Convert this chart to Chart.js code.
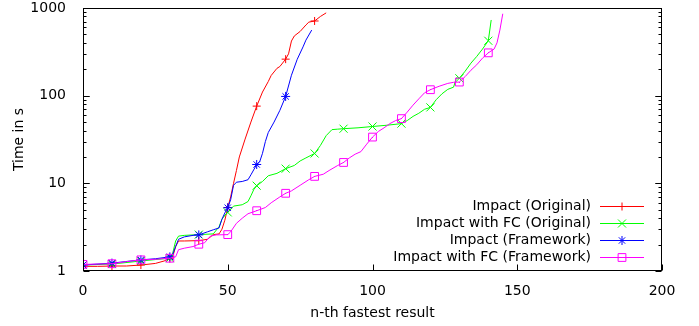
<!DOCTYPE html>
<html>
<head>
<meta charset="utf-8">
<script src="https://cdn.jsdelivr.net/npm/chart.js@4/dist/chart.umd.min.js"></script>
<style>
    html, body { margin: 0; padding: 0; background: #fff; }
    #wrap { width: 699px; height: 326px; }
</style>
</head>
<body>
<div id="wrap"><canvas id="timeChart"></canvas></div>
<script>
// n-th fastest result vs. time (s)
const seriesNames = ['Impact (Original)', 'Impact with FC (Original)', 'Impact (Framework)', 'Impact with FC (Framework)'];
const seriesColors = ['#ff0000', '#00ff00', '#0000ff', '#ff00ff'];

const impactOrigX = [0, 5, 10, 15, 20, 25, 28, 30, 31, 32, 33, 35, 40, 43, 45, 47, 48, 49, 50, 51, 52, 53, 54, 56, 58, 60, 62, 64, 65, 67, 68, 70, 71, 72, 73, 75, 77, 78, 80, 82, 84];
const impactOrigY = [1.13, 1.13, 1.14, 1.14, 1.17, 1.22, 1.3, 1.38, 1.45, 1.9, 2.2, 2.2, 2.22, 2.3, 2.6, 2.65, 3.0, 3.8, 5.3, 7, 10, 14, 20, 32, 50, 76, 110, 145, 170, 205, 215, 261, 300, 420, 480, 540, 640, 690, 711, 800, 880];

const fcOrigX = [0, 10, 20, 25, 30, 31, 32, 33, 35, 40, 45, 47, 48, 49, 50, 52, 55, 57, 58, 59, 60, 62, 64, 67, 70, 73, 75, 77, 80, 82, 84, 86, 88, 90, 95, 100, 105, 110, 112, 114, 116, 118, 120, 122, 124, 126, 128, 129, 130, 132, 134, 136, 138, 140, 141];
const fcOrigY = [1.17, 1.2, 1.3, 1.35, 1.4, 1.6, 2.2, 2.5, 2.55, 2.6, 2.65, 3.2, 3.9, 4.3, 4.66, 5.5, 5.7, 6.2, 7.2, 8.5, 9.4, 10.5, 12.2, 13, 14.7, 16, 18, 19.5, 21.9, 27, 35, 41, 41.5, 42, 43, 44.5, 46, 48, 52, 58, 63, 70, 73.5, 90, 105, 118, 125, 160, 158, 190, 235, 280, 340, 423, 730];

const impactFwX = [0, 10, 20, 25, 30, 31, 32, 33, 35, 38, 40, 43, 45, 47, 48, 49, 50, 51, 52, 53, 55, 57, 58, 60, 61, 62, 63, 64, 66, 68, 70, 72, 74, 76, 77, 79];
const impactFwY = [1.17, 1.23, 1.34, 1.38, 1.45, 1.55, 1.9, 2.3, 2.45, 2.55, 2.58, 2.8, 2.95, 3.1, 3.9, 4.6, 5.27, 6.5, 9.5, 10.3, 10.5, 11, 12.5, 16.4, 17.5, 22, 30, 38, 50, 68, 98, 171, 260, 360, 430, 560];

const fcFwX = [0, 5, 10, 15, 20, 25, 30, 32, 33, 35, 38, 40, 42, 44, 46, 50, 51, 53, 55, 57, 60, 63, 65, 68, 70, 72, 75, 78, 80, 83, 85, 88, 90, 92, 94, 96, 98, 100, 102, 104, 106, 108, 110, 112, 114, 116, 118, 120, 123, 126, 128, 130, 132, 134, 136, 138, 140, 142, 143, 144, 145];
const fcFwY = [1.19, 1.2, 1.21, 1.28, 1.34, 1.36, 1.4, 1.45, 1.75, 1.82, 1.9, 2.02, 2.1, 2.5, 2.58, 2.6, 2.8, 3.5, 4.0, 4.5, 4.87, 5.3, 6.0, 7.0, 7.7, 8.2, 9.5, 11, 12, 12.7, 14, 16, 17.3, 19.5, 21.5, 23, 28, 33.7, 39, 43, 48, 52, 54.7, 65, 78, 92, 108, 117, 128, 138, 142, 143, 165, 195, 225, 268, 308, 340, 400, 560, 860];

const xTickValues = [0, 50, 100, 150, 200];
const yTickLabels = [1, 10, 100, 1000];

const markerStyles = ['cross', 'crossRot', 'star', 'rect'];
const markerSizes = [4, 5.7, 4.5, 5.5];

function toPoints(xs, ys) {
    return xs.map((x, i) => ({x: x, y: ys[i]}));
}

const seriesPoints = [
    toPoints(impactOrigX, impactOrigY),
    toPoints(fcOrigX, fcOrigY),
    toPoints(impactFwX, impactFwY),
    toPoints(fcFwX, fcFwY),
];

const FONT = 'DejaVu Sans';
const FONT_SIZE = 14;

const datasets = seriesPoints.map((pts, i) => ({
    label: seriesNames[i],
    data: pts,
    borderColor: seriesColors[i],
    pointBorderColor: seriesColors[i],
    pointBackgroundColor: 'rgba(0,0,0,0)',
    borderWidth: 1,
    pointBorderWidth: 1,
    pointStyle: markerStyles[i],
    pointRadius: ctx => (ctx.raw && ctx.raw.x % 10 === 0 ? markerSizes[i] : 0),
    pointHoverRadius: 0,
    tension: 0,
    fill: false,
    order: 4 - i,
}));

function drawMarker(ctx, style, radius, x, y) {
    if (Chart.helpers && Chart.helpers.drawPoint) {
        Chart.helpers.drawPoint(ctx, {pointStyle: style, radius: radius, rotation: 0, borderWidth: 1}, x, y);
    }
}

const framePlugin = {
    id: 'frame',
    afterDatasetsDraw(chart) {
        // the little dot gnuplot puts inside the open squares
        const ctx = chart.ctx;
        const meta = chart.getDatasetMeta(3);
        ctx.save();
        ctx.fillStyle = seriesColors[3];
        meta.data.forEach((el, j) => {
            if (seriesPoints[3][j].x % 10 === 0) {
                ctx.fillRect(Math.round(el.x - 0.5), Math.round(el.y - 0.5), 1, 1);
            }
        });
        ctx.restore();
    },
    afterDraw(chart) {
        const {ctx, chartArea: a, scales} = chart;
        ctx.save();
        ctx.strokeStyle = '#000';
        ctx.lineWidth = 1;
        const L = Math.round(a.left) + 0.5, R = Math.round(a.right) - 0.5;
        const T = Math.round(a.top) + 0.5, B = Math.round(a.bottom) - 0.5;
        ctx.strokeRect(L, T, R - L, B - T);

        ctx.beginPath();
        xTickValues.forEach(v => {
            const px = Math.round(scales.x.getPixelForValue(v)) + 0.5;
            ctx.moveTo(px, B);
            ctx.lineTo(px, B - 6);
        });
        [1, 10, 100].forEach(d => {
            for (let k = 1; k <= 10; k++) {
                const py = Math.round(scales.y.getPixelForValue(k * d)) + 0.5;
                const len = (k === 1 || k === 10) ? 6 : 3;
                ctx.moveTo(L, py); ctx.lineTo(L + len, py);
                ctx.moveTo(R, py); ctx.lineTo(R - len, py);
            }
        });
        ctx.stroke();

        // legend: text on the left, sample line with marker on the right
        ctx.font = FONT_SIZE + 'px "' + FONT + '"';
        ctx.textAlign = 'right';
        ctx.textBaseline = 'middle';
        seriesNames.forEach((name, i) => {
            const y = 206.5 + i * 17;
            ctx.fillStyle = '#000';
            ctx.fillText(name, 591, y);
            ctx.strokeStyle = seriesColors[i];
            ctx.beginPath();
            ctx.moveTo(600, y);
            ctx.lineTo(644, y);
            ctx.stroke();
            ctx.fillStyle = 'rgba(0,0,0,0)';
            drawMarker(ctx, markerStyles[i], markerSizes[i], 622, y);
            if (i === 3) {
                ctx.fillStyle = seriesColors[i];
                ctx.fillRect(621.5, y - 0.5, 1, 1);
            }
        });
        ctx.restore();
    }
};

new Chart(document.getElementById('timeChart'), {
    type: 'line',
    data: {datasets: datasets},
    options: {
        responsive: true,
        maintainAspectRatio: false,
        animation: false,
        layout: {padding: {left: 0, right: 37, top: 8, bottom: 0}},
        plugins: {legend: {display: false}, tooltip: {enabled: false}},
        scales: {
            x: {
                type: 'linear',
                min: 0,
                max: 200,
                afterFit: s => { s.height = 55; s.paddingLeft = 0; s.paddingRight = 0; },
                grid: {display: false},
                border: {display: false},
                ticks: {
                    stepSize: 50,
                    padding: 4,
                    color: '#000',
                    font: {family: FONT, size: FONT_SIZE},
                    maxRotation: 0,
                },
                title: {
                    display: true,
                    text: 'n-th fastest result',
                    color: '#000',
                    font: {family: FONT, size: FONT_SIZE},
                    padding: {top: 0, bottom: 4},
                },
            },
            y: {
                type: 'logarithmic',
                min: 1,
                max: 1000,
                afterFit: s => { s.width = 83; s.paddingTop = 0; s.paddingBottom = 0; },
                grid: {display: false},
                border: {display: false},
                ticks: {
                    autoSkip: false,
                    padding: 9,
                    color: '#000',
                    font: {family: FONT, size: FONT_SIZE},
                    callback: v => (yTickLabels.includes(v) ? String(v) : ''),
                },
                title: {
                    display: true,
                    text: 'Time in s',
                    color: '#000',
                    font: {family: FONT, size: FONT_SIZE},
                    padding: {top: 11, bottom: 0},
                },
            },
        },
    },
    plugins: [framePlugin],
});
</script>
</body>
</html>
